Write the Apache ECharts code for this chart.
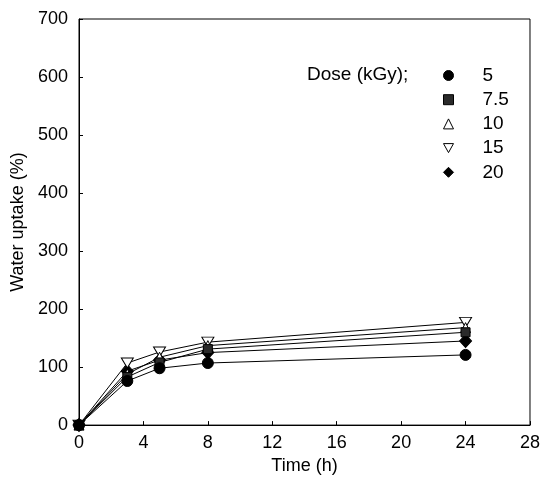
<!DOCTYPE html>
<html>
<head>
<meta charset="utf-8">
<script src="https://cdn.jsdelivr.net/npm/echarts@6/dist/echarts.min.js"></script>
<style>html,body{margin:0;padding:0;background:#fff}#c{width:543px;height:480px}</style>
</head>
<body>
<div id="c"></div>
<script>
const time = [0, 3, 5, 8, 24];
const dose5 = [0, 76, 98, 107, 121];
const dose7_5 = [0, 83, 108, 131, 160];
const dose10 = [0, 88, 117, 137, 168];
const dose15 = [0, 107, 126, 143, 177];
const dose20 = [0, 93, 112, 125, 145];
const doseNames = ['5', '7.5', '10', '15', '20'];
const xTicks = [0, 4, 8, 12, 16, 20, 24, 28];
const yTicks = [0, 100, 200, 300, 400, 500, 600, 700];

const FONT = 'Liberation Sans, Arial, sans-serif';
const invTri = 'path://M0,0 L10,0 L5,9 Z';

function pairs(v) { return time.map((t, i) => [t, v[i]]); }

const styles = [
  {symbol: 'circle', size: 11, fill: '#000', border: '#000'},
  {symbol: 'rect', size: 9, fill: '#2a2a2a', border: '#000'},
  {symbol: 'triangle', size: 10, fill: '#fff', border: '#000'},
  {symbol: invTri, size: [12, 10], fill: '#fff', border: '#000'},
  {symbol: 'diamond', size: [12, 13], fill: '#000', border: '#000'}
];
const values = [dose5, dose7_5, dose10, dose15, dose20];

const series = values.map((v, i) => ({
  name: doseNames[i],
  type: 'line',
  data: pairs(v),
  symbol: styles[i].symbol,
  symbolSize: styles[i].size,
  showAllSymbol: true,
  lineStyle: {color: '#000', width: 1},
  itemStyle: {color: styles[i].fill, borderColor: styles[i].border, borderWidth: 1},
  z: 10 - i
}));

const chart = echarts.init(document.getElementById('c'), null, {renderer: 'canvas'});
chart.setOption({
  animation: false,
  backgroundColor: '#fff',
  title: {
    text: 'Dose (kGy);',
    left: 302, top: 60,
    textStyle: {fontFamily: FONT, fontSize: 19, fontWeight: 'normal', color: '#000'}
  },
  legend: {
    orient: 'vertical',
    left: 438, top: 61,
    itemWidth: 10, itemHeight: 10,
    itemGap: 5.2,
    selectedMode: false,
    textStyle: {fontFamily: FONT, fontSize: 19, color: '#000', lineHeight: 19, padding: [0, 0, 0, 24]},
    data: doseNames.map((n, i) => ({
      name: n,
      icon: styles[i].symbol,
      itemStyle: {color: styles[i].fill, borderColor: styles[i].border, borderWidth: 1}
    }))
  },
  grid: {
    left: 79, right: 11, top: 19, bottom: 54,
    show: true, borderColor: '#000', borderWidth: 1
  },
  xAxis: {
    type: 'value', min: xTicks[0], max: xTicks[xTicks.length - 1], interval: 4,
    name: 'Time (h)', nameLocation: 'middle', nameGap: 28,
    nameTextStyle: {fontFamily: FONT, fontSize: 18, color: '#000'},
    axisLine: {show: true, lineStyle: {color: '#000', width: 1}},
    axisTick: {show: true, inside: true, length: 4, lineStyle: {color: '#000'}},
    axisLabel: {fontFamily: FONT, fontSize: 18, color: '#000', margin: 9},
    splitLine: {show: false}
  },
  yAxis: {
    type: 'value', min: yTicks[0], max: yTicks[yTicks.length - 1], interval: 100,
    name: 'Water uptake (%)', nameLocation: 'middle', nameGap: 48,
    nameTextStyle: {fontFamily: FONT, fontSize: 18, color: '#000'},
    axisLine: {show: true, lineStyle: {color: '#000', width: 1}},
    axisTick: {show: true, inside: true, length: 4, lineStyle: {color: '#000'}},
    axisLabel: {fontFamily: FONT, fontSize: 18, color: '#000', margin: 11},
    splitLine: {show: false}
  },
  series: series
});
</script>
</body>
</html>
